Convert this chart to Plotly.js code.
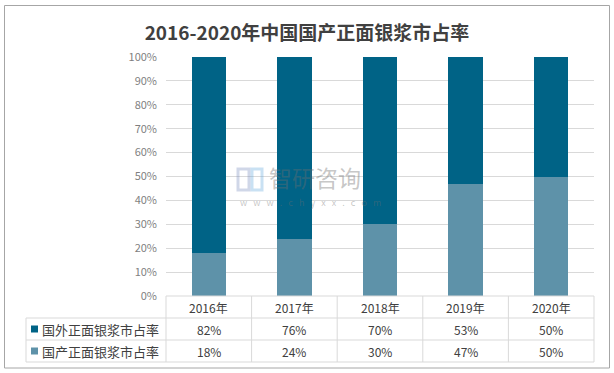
<!DOCTYPE html>
<html>
<head>
<meta charset="utf-8">
<script src="https://cdn.plot.ly/plotly-3.0.1.min.js"></script>
<style>html,body{margin:0;padding:0;background:#fff;}#chart{width:614px;height:373px;}</style>
</head>
<body>
<div id="chart"></div>
<script>
var years = ['2016年', '2017年', '2018年', '2019年', '2020年'];
var foreignShare = [82, 76, 70, 53, 50];
var domesticShare = [18, 24, 30, 47, 50];
var foreignName = '国外正面银浆市占率';
var domesticName = '国产正面银浆市占率';
var titleText = '2016-2020年中国国产正面银浆市占率';

var W = 614, H = 373, L = 166, R = 594, T = 57, B = 296;
function px(x) { return (x - L) / (R - L); }
function py(y) { return (B - y) / (B - T); }

var darkColor = '#006386';
var lightColor = '#5e92a9';
var lineColor = '#d9d9d9';
var font = '"Noto Sans CJK SC", "Noto Sans", sans-serif';

var traces = [
  {type: 'bar', name: domesticName, x: years, y: domesticShare.map(function (v) { return v / 100; }),
   marker: {color: lightColor}, hoverinfo: 'skip'},
  {type: 'bar', name: foreignName, x: years, y: foreignShare.map(function (v) { return v / 100; }),
   marker: {color: darkColor}, hoverinfo: 'skip'}
];

var shapes = [];
function hline(x0, x1, y) {
  shapes.push({type: 'line', xref: 'paper', yref: 'paper', x0: px(x0), x1: px(x1), y0: py(y), y1: py(y),
    line: {color: lineColor, width: 1}});
}
function vline(x, y0, y1) {
  shapes.push({type: 'line', xref: 'paper', yref: 'paper', x0: px(x), x1: px(x), y0: py(y0), y1: py(y1),
    line: {color: lineColor, width: 1}});
}
// outer border
shapes.push({type: 'rect', xref: 'paper', yref: 'paper', x0: px(4.5), x1: px(609.5), y0: py(5.5), y1: py(368),
  line: {color: '#a6a6a6', width: 1}, fillcolor: 'rgba(0,0,0,0)', layer: 'below'});
// table grid
hline(166, 594, 296);
hline(26, 594, 318);
hline(26, 594, 340);
hline(26, 594, 362);
vline(26, 318, 362);
var colEdges = [166, 251.6, 337.2, 422.8, 508.4, 594];
colEdges.forEach(function (x) { vline(x, 296, 362); });
// legend keys
shapes.push({type: 'rect', xref: 'paper', yref: 'paper', x0: px(31), x1: px(38), y0: py(325.5), y1: py(332.5),
  line: {width: 0}, fillcolor: darkColor});
shapes.push({type: 'rect', xref: 'paper', yref: 'paper', x0: px(31), x1: px(38), y0: py(347.5), y1: py(354.5),
  line: {width: 0}, fillcolor: lightColor});
// watermark logo
shapes.push({type: 'rect', xref: 'paper', yref: 'paper', x0: px(238), x1: px(249), y0: py(169), y1: py(190),
  line: {color: 'rgba(120,140,190,0.35)', width: 3}, fillcolor: 'rgba(0,0,0,0)'});
shapes.push({type: 'rect', xref: 'paper', yref: 'paper', x0: px(252), x1: px(262), y0: py(169), y1: py(190),
  line: {color: 'rgba(100,170,220,0.35)', width: 3}, fillcolor: 'rgba(0,0,0,0)'});

var annotations = [];
var txtColor = '#404040';
years.forEach(function (yr, i) {
  annotations.push({xref: 'x', yref: 'paper', x: yr, y: py(307), text: yr, showarrow: false,
    font: {family: font, size: 12, color: txtColor}, xanchor: 'center', yanchor: 'middle'});
  annotations.push({xref: 'x', yref: 'paper', x: yr, y: py(329), text: foreignShare[i] + '%', showarrow: false,
    font: {family: font, size: 12, color: txtColor}, xanchor: 'center', yanchor: 'middle'});
  annotations.push({xref: 'x', yref: 'paper', x: yr, y: py(351), text: domesticShare[i] + '%', showarrow: false,
    font: {family: font, size: 12, color: txtColor}, xanchor: 'center', yanchor: 'middle'});
});
annotations.push({xref: 'paper', yref: 'paper', x: px(40), y: py(329), text: foreignName, showarrow: false,
  font: {family: font, size: 13, color: txtColor}, xanchor: 'left', yanchor: 'middle'});
annotations.push({xref: 'paper', yref: 'paper', x: px(40), y: py(351), text: domesticName, showarrow: false,
  font: {family: font, size: 13, color: txtColor}, xanchor: 'left', yanchor: 'middle'});
// watermark text
annotations.push({xref: 'paper', yref: 'paper', x: px(267), y: py(177), text: '智研咨询', showarrow: false,
  font: {family: font, size: 23, color: 'rgba(110,110,110,0.4)'}, xanchor: 'left', yanchor: 'middle'});
annotations.push({xref: 'paper', yref: 'paper', x: px(238), y: py(202), text: 'w   w   w   .   c   h   y   x   x   .   c   o   m', showarrow: false,
  font: {family: font, size: 9, color: 'rgba(110,110,110,0.4)'}, xanchor: 'left', yanchor: 'middle'});

var layout = {
  width: W, height: H,
  margin: {l: L, r: W - R, t: T, b: H - B, pad: 0},
  paper_bgcolor: '#ffffff', plot_bgcolor: '#ffffff',
  title: {text: '<b>' + titleText + '</b>', x: 0.5, xref: 'container', xanchor: 'center', y: 1 - 33 / H, yref: 'container', yanchor: 'middle',
    font: {family: font, size: 19, color: '#404040'}},
  barmode: 'stack', bargap: 0.6,
  showlegend: false,
  xaxis: {type: 'category', showticklabels: false, showgrid: false, zeroline: false, showline: false, ticks: '', fixedrange: true},
  yaxis: {range: [0, 1], dtick: 0.1, tickformat: '.0%', showgrid: true, gridcolor: lineColor, gridwidth: 1,
    zeroline: false, showline: false, ticks: '', ticklabelstandoff: 8,
    tickfont: {family: font, size: 11, color: '#7f7f7f'}, fixedrange: true},
  shapes: shapes,
  annotations: annotations
};

Plotly.newPlot('chart', traces, layout, {displayModeBar: false, staticPlot: true});
</script>
</body>
</html>
